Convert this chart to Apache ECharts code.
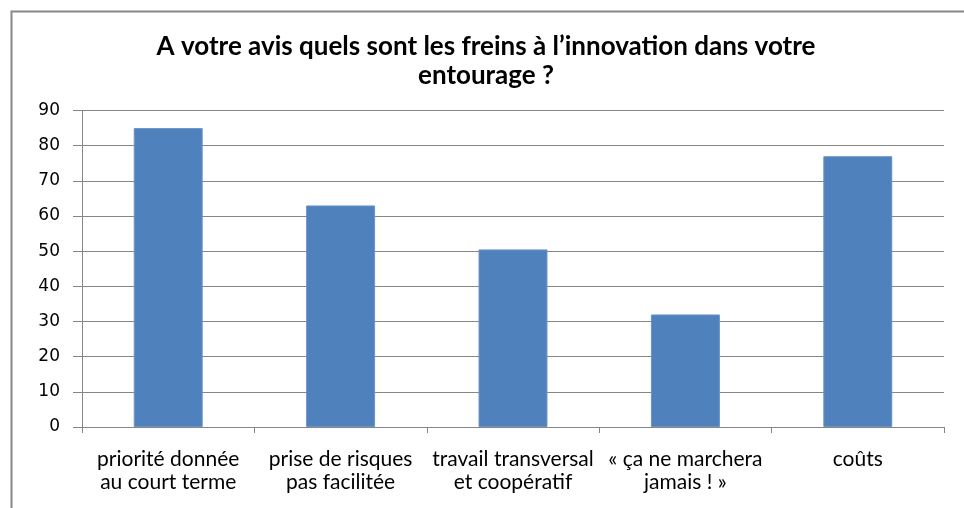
<!DOCTYPE html>
<html>
<head>
<meta charset="utf-8">
<script src="https://cdn.jsdelivr.net/npm/echarts@6/dist/echarts.min.js"></script>
<style>
  html, body { margin: 0; padding: 0; background: #fff; }
  #chart { width: 964px; height: 508px; }
</style>
</head>
<body>
<div id="chart"></div>
<script>
const categories = [
  'priorité donnée\nau court terme',
  'prise de risques\npas facilitée',
  'travail transversal\net coopératif',
  '« ça ne marchera\njamais ! »',
  'coûts'
]
const values = [85, 63, 50.5, 32, 77]
const yMin = 0
const yMax = 90
const yStep = 10

const labelFont = 'Lato, "Open Sans", sans-serif'

const chart = echarts.init(document.getElementById('chart'))

chart.setOption({
  animation: false,
  title: {
    text: 'A votre avis quels sont les freins à l’innovation dans votre\nentourage ?',
    left: 481,
    top: 27,
    textAlign: 'center',
    textStyle: {
      fontFamily: labelFont,
      fontSize: 26,
      fontWeight: 'bold',
      color: '#000',
      lineHeight: 29
    }
  },
  graphic: [{
    type: 'rect',
    shape: { x: 11.5, y: 11.5, width: 970, height: 520 },
    style: { fill: 'none', stroke: '#878787', lineWidth: 2 },
    silent: true
  }],
  grid: { left: 82, right: 20, top: 110.5, bottom: 81 },
  xAxis: {
    type: 'category',
    data: categories,
    axisLine: { lineStyle: { color: '#868686' } },
    axisTick: { show: true, length: 6, lineStyle: { color: '#868686' } },
    axisLabel: {
      interval: 0,
      margin: 21,
      color: '#000',
      fontFamily: labelFont,
      fontSize: 21,
      lineHeight: 23
    }
  },
  yAxis: {
    type: 'value',
    min: yMin,
    max: yMax,
    interval: yStep,
    axisLine: { show: true, lineStyle: { color: '#868686' } },
    axisTick: { show: true, length: 9, lineStyle: { color: '#868686' } },
    splitLine: { lineStyle: { color: '#868686' } },
    axisLabel: {
      margin: 22,
      color: '#000',
      fontFamily: '"DejaVu Sans", Verdana, sans-serif',
      fontSize: 17
    }
  },
  series: [{
    type: 'bar',
    data: values,
    barWidth: '40%',
    itemStyle: { color: '#4F81BD', borderColor: '#6a93c8', borderWidth: 1 }
  }]
})
</script>
</body>
</html>
